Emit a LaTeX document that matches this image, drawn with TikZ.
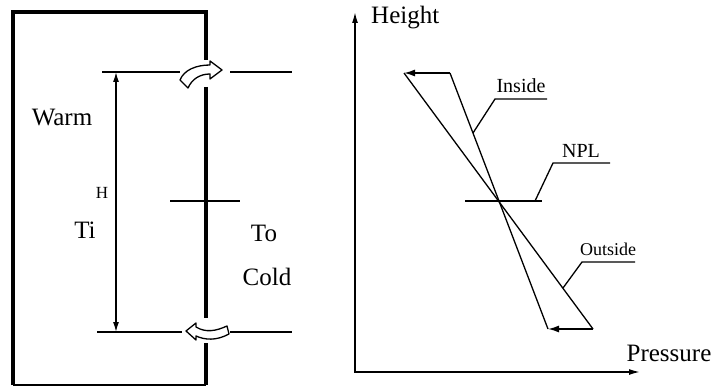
\documentclass[tikz,border=0pt]{standalone}
\usepackage{fontspec}
\setmainfont{Liberation Serif}
\usetikzlibrary{
  arrows.meta,
  calc
}
\tikzset{
  wall/.style={line width=4.5pt, line join=miter},
  floorline/.style={line width=1.6pt},
  refline/.style={line width=1.5pt},
  thinline/.style={line width=1.3pt},
  dimarrow/.style={{Latex[length=10pt,width=6pt]}-{Latex[length=10pt,width=6pt]}, line width=1.3pt},
  pshift/.style={-{Latex[length=11pt,width=7pt]}, line width=1.5pt},
  axisline/.style={{Latex[length=11pt,width=6pt]}-{Latex[length=11pt,width=6pt]}, line width=1.5pt},
  flowarrow/.style={draw, fill=white, line width=1.3pt, line join=round},
  biglabel/.style={font=\fontsize{25}{29}\selectfont, inner sep=0pt},
  smalllabel/.style={font=\fontsize{20}{23}\selectfont, inner sep=0pt},
  tinylabel/.style={font=\fontsize{17}{19}\selectfont, inner sep=0pt}
}

\begin{document}
\begin{tikzpicture}[x=1pt, y=-1pt]
  \useasboundingbox (0,0) rectangle (717,387);

  % building with its walls
  \draw[wall] (13,385) -- (13,12) -- (206,12) -- (206,60);
  \draw[wall] (206,87) -- (206,318);
  \draw[wall] (206,343) -- (206,385);
  \draw[floorline] (13,385) -- (206,385);

  % opening levels
  \coordinate (topL) at (102,72);
  \coordinate (topM) at (180,72);
  \coordinate (topN) at (230,72);
  \coordinate (topR) at (292,72);
  \coordinate (botL) at (97,332);
  \coordinate (botM) at (182,332);
  \coordinate (botN) at (230,332);
  \coordinate (botR) at (292,332);
  \coordinate (nplL) at (170,201);
  \coordinate (nplR) at (240,201);
  \draw[refline] (topL) -- (topM);
  \draw[refline] (topN) -- (topR);
  \draw[refline] (botL) -- (botM);
  \draw[refline] (botN) -- (botR);
  \draw[refline] (nplL) -- (nplR);

  % height between openings
  \coordinate (dimtop) at (116,72);
  \coordinate (dimbot) at (116,332);
  \draw[dimarrow] (dimtop) -- (dimbot);

  % air through the openings
  \draw[flowarrow] (180,80) .. controls (184,70) and (196,65) .. (210,65)
    -- (210,61) -- (222,70) -- (210,79) -- (210,74)
    .. controls (200,74) and (192,79) .. (188,88) -- cycle;
  \draw[flowarrow] (186,331) -- (196,323) -- (196,327)
    .. controls (206,333) and (216,331) .. (227,326)
    -- (229,334) .. controls (216,341) and (205,340) .. (196,336)
    -- (196,340) -- cycle;

  \node[biglabel] (warm) at (62,118) {Warm};
  \node[tinylabel] (hgt) at (102,193) {H};
  \node[biglabel] (ti) at (85,230) {Ti};
  \node[biglabel] (to) at (264,233) {To};
  \node[biglabel] (cold) at (267,277) {Cold};

  % pressure diagram
  \coordinate (orig) at (355,372);
  \coordinate (ytip) at (355,12);
  \coordinate (xtip) at (640,372);
  \draw[axisline] (ytip) -- (orig) -- (xtip);
  \node[biglabel, anchor=base west] (height) at (371,24) {Height};
  \node[biglabel, anchor=base] (pressure) at (669,361) {Pressure};

  \coordinate (inT) at (450,73);
  \coordinate (outT) at (404,73);
  \coordinate (outB) at (593,329);
  \coordinate (inB) at (548,329);
  \draw[pshift] (inT) -- (outT);
  \draw[thinline] (outT) -- (outB);
  \draw[pshift] (outB) -- (inB);
  \draw[thinline] (inB) -- (inT);

  \coordinate (nplA) at (465,201);
  \coordinate (nplB) at (542,201);
  \draw[refline] (nplA) -- (nplB);

  % leaders to the labels
  \coordinate (inP) at (473,133);
  \coordinate (inK) at (495,99);
  \coordinate (inE) at (547,99);
  \draw[thinline] (inP) -- (inK) -- (inE);
  \node[smalllabel] (inside) at (521,86) {Inside};

  \coordinate (nplP) at (535,201);
  \coordinate (nplK) at (553,163);
  \coordinate (nplE) at (610,163);
  \draw[thinline] (nplP) -- (nplK) -- (nplE);
  \node[smalllabel] (npl) at (581,151) {NPL};

  \coordinate (outP) at (563,288);
  \coordinate (outK) at (582,262);
  \coordinate (outE) at (635,262);
  \draw[thinline] (outP) -- (outK) -- (outE);
  \node[smalllabel, font=\fontsize{18}{21}\selectfont] (outside) at (608,249) {Outside};
\end{tikzpicture}
\end{document}
